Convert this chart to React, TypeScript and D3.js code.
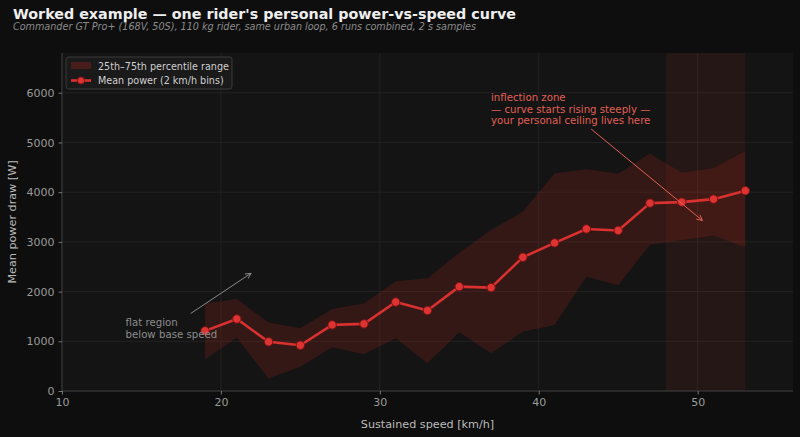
import React, { useEffect, useRef } from "react";
import * as d3 from "d3";

// Speed bins (km/h, bin centres) and the power statistics per bin
const speeds = [19, 21, 23, 25, 27, 29, 31, 33, 35, 37, 39, 41, 43, 45, 47, 49, 51, 53];
const meanPower = [1210, 1450, 990, 920, 1330, 1350, 1790, 1620, 2100, 2080, 2690, 2980, 3260, 3230, 3780, 3800, 3860, 4030];
const p25 = [640, 1070, 250, 490, 880, 740, 1060, 560, 1180, 760, 1190, 1330, 2300, 2130, 2940, 3040, 3130, 2890];
const p75 = [1760, 1850, 1380, 1260, 1650, 1760, 2210, 2270, 2780, 3240, 3610, 4380, 4460, 4370, 4780, 4390, 4480, 4830];

const xTicks = [10, 20, 30, 40, 50];
const yTicks = [0, 1000, 2000, 3000, 4000, 5000, 6000];
const inflectionZone = [48, 53];

const FONT = "DejaVu Sans, Verdana, sans-serif";

const App: React.FC = () => {
  const svgRef = useRef<SVGSVGElement | null>(null);

  useEffect(() => {
    const width = 800;
    const height = 437;
    const margin = { top: 53, right: 7, bottom: 46, left: 62 };

    const svg = d3.select(svgRef.current);
    svg.selectAll("*").remove();
    svg.attr("width", width).attr("height", height);

    const x = d3.scaleLinear().domain([10, 56]).range([margin.left, width - margin.right]);
    const y = d3.scaleLinear().domain([0, 6800]).range([height - margin.bottom, margin.top]);

    // Backgrounds
    svg.append("rect").attr("width", width).attr("height", height).attr("fill", "#0e0e0e");
    svg
      .append("rect")
      .attr("x", margin.left)
      .attr("y", margin.top)
      .attr("width", width - margin.left - margin.right)
      .attr("height", height - margin.top - margin.bottom)
      .attr("fill", "#141414");

    // Grid
    const grid = svg.append("g").attr("stroke", "#262626").attr("stroke-width", 0.8);
    xTicks.forEach((t) => {
      grid.append("line").attr("x1", x(t)).attr("x2", x(t)).attr("y1", y.range()[0]).attr("y2", y.range()[1]);
    });
    yTicks.forEach((t) => {
      grid.append("line").attr("x1", x.range()[0]).attr("x2", x.range()[1]).attr("y1", y(t)).attr("y2", y(t));
    });

    // Inflection zone shading
    svg
      .append("rect")
      .attr("x", x(inflectionZone[0]))
      .attr("y", margin.top)
      .attr("width", x(inflectionZone[1]) - x(inflectionZone[0]))
      .attr("height", height - margin.top - margin.bottom)
      .attr("fill", "#c0392b")
      .attr("opacity", 0.1);

    // Interquartile band
    const bandData = speeds.map((s, i) => ({ s, lo: p25[i], hi: p75[i] }));
    const area = d3
      .area<{ s: number; lo: number; hi: number }>()
      .x((d) => x(d.s))
      .y0((d) => y(d.lo))
      .y1((d) => y(d.hi));
    svg.append("path").attr("d", area(bandData)).attr("fill", "#b3261e").attr("opacity", 0.2);

    // Mean line with markers
    const lineData = speeds.map((s, i) => ({ s, p: meanPower[i] }));
    const line = d3
      .line<{ s: number; p: number }>()
      .x((d) => x(d.s))
      .y((d) => y(d.p));
    svg
      .append("path")
      .attr("d", line(lineData))
      .attr("fill", "none")
      .attr("stroke", "#d93030")
      .attr("stroke-width", 2.6)
      .attr("stroke-linejoin", "round");
    svg
      .selectAll(".pt")
      .data(lineData)
      .enter()
      .append("circle")
      .attr("class", "pt")
      .attr("cx", (d) => x(d.s))
      .attr("cy", (d) => y(d.p))
      .attr("r", 4.2)
      .attr("fill", "#dd3333")
      .attr("stroke", "#7a1414")
      .attr("stroke-width", 1);

    // Spines
    svg
      .append("line")
      .attr("x1", x.range()[0]).attr("x2", x.range()[0])
      .attr("y1", y.range()[0]).attr("y2", y.range()[1])
      .attr("stroke", "#3a3a3a");
    svg
      .append("line")
      .attr("x1", x.range()[0]).attr("x2", x.range()[1])
      .attr("y1", y.range()[0]).attr("y2", y.range()[0])
      .attr("stroke", "#3a3a3a");

    // Axes
    const xAxis = svg
      .append("g")
      .attr("transform", `translate(0, ${y.range()[0]})`)
      .call(d3.axisBottom(x).tickValues(xTicks).tickSize(3.5).tickPadding(4).tickFormat(d3.format("d")));
    const yAxis = svg
      .append("g")
      .attr("transform", `translate(${x.range()[0]}, 0)`)
      .call(d3.axisLeft(y).tickValues(yTicks).tickSize(3.5).tickPadding(4).tickFormat(d3.format("d")));
    [xAxis, yAxis].forEach((ax) => {
      ax.select(".domain").remove();
      ax.selectAll("line").attr("stroke", "#777");
      ax.selectAll("text").attr("fill", "#9a9a9a").attr("font-family", FONT).attr("font-size", 11);
    });

    // Axis labels
    svg
      .append("text")
      .attr("x", (x.range()[0] + x.range()[1]) / 2)
      .attr("y", 428)
      .attr("text-anchor", "middle")
      .attr("fill", "#bbbbbb")
      .attr("font-family", FONT)
      .attr("font-size", 11.2)
      .text("Sustained speed [km/h]");
    svg
      .append("text")
      .attr("transform", `translate(16, ${(y.range()[0] + y.range()[1]) / 2}) rotate(-90)`)
      .attr("text-anchor", "middle")
      .attr("fill", "#bbbbbb")
      .attr("font-family", FONT)
      .attr("font-size", 11.2)
      .text("Mean power draw [W]");

    // Arrow heads
    const defs = svg.append("defs");
    const addMarker = (id: string, color: string) => {
      defs
        .append("marker")
        .attr("id", id)
        .attr("viewBox", "0 0 10 10")
        .attr("refX", 9)
        .attr("refY", 5)
        .attr("markerWidth", 7)
        .attr("markerHeight", 7)
        .attr("orient", "auto")
        .append("path")
        .attr("d", "M1,1 L9,5 L1,9")
        .attr("fill", "none")
        .attr("stroke", color)
        .attr("stroke-width", 1.3);
    };
    addMarker("arrowGray", "#8a8a8a");
    addMarker("arrowRed", "#e06055");

    // Annotation: flat region
    svg
      .append("line")
      .attr("x1", x(18.1)).attr("y1", y(1560))
      .attr("x2", x(21.9)).attr("y2", y(2370))
      .attr("stroke", "#8a8a8a")
      .attr("stroke-width", 1)
      .attr("marker-end", "url(#arrowGray)");
    const flat = svg
      .append("text")
      .attr("fill", "#8c8c8c")
      .attr("font-family", FONT)
      .attr("font-size", 10.2);
    flat.append("tspan").attr("x", x(14)).attr("y", 326).text("flat region");
    flat.append("tspan").attr("x", x(14)).attr("y", 338).text("below base speed");

    // Annotation: inflection zone
    svg
      .append("line")
      .attr("x1", x(43.3)).attr("y1", y(5270))
      .attr("x2", x(50.3)).attr("y2", y(3430))
      .attr("stroke", "#e06055")
      .attr("stroke-width", 1)
      .attr("marker-end", "url(#arrowRed)");
    const infl = svg
      .append("text")
      .attr("fill", "#e06055")
      .attr("font-family", FONT)
      .attr("font-size", 10.2);
    ["inflection zone", "— curve starts rising steeply —", "your personal ceiling lives here"].forEach((t, i) => {
      infl.append("tspan").attr("x", 491).attr("y", 101 + i * 11.6).text(t);
    });

    // Legend
    const lg = svg.append("g").attr("transform", "translate(66, 57)");
    lg.append("rect")
      .attr("width", 166)
      .attr("height", 32)
      .attr("rx", 2.5)
      .attr("fill", "#1a1a1a")
      .attr("stroke", "#444")
      .attr("stroke-width", 0.8);
    lg.append("rect").attr("x", 5).attr("y", 5).attr("width", 20).attr("height", 7).attr("fill", "#b3261e").attr("opacity", 0.3);
    lg.append("line").attr("x1", 5).attr("x2", 25).attr("y1", 23.5).attr("y2", 23.5).attr("stroke", "#d93030").attr("stroke-width", 2.6);
    lg.append("circle").attr("cx", 15).attr("cy", 23.5).attr("r", 3.6).attr("fill", "#dd3333").attr("stroke", "#7a1414");
    lg.append("text")
      .attr("x", 32).attr("y", 12.5)
      .attr("fill", "#d0d0d0").attr("font-family", FONT).attr("font-size", 9.6)
      .text("25th–75th percentile range");
    lg.append("text")
      .attr("x", 32).attr("y", 27)
      .attr("fill", "#d0d0d0").attr("font-family", FONT).attr("font-size", 9.6)
      .text("Mean power (2 km/h bins)");

    // Title & subtitle
    svg
      .append("text")
      .attr("x", 13).attr("y", 19)
      .attr("fill", "#eeeeee").attr("font-family", FONT).attr("font-size", 14.3).attr("font-weight", "bold")
      .text("Worked example — one rider's personal power-vs-speed curve");
    svg
      .append("text")
      .attr("x", 13).attr("y", 29.5)
      .attr("fill", "#8a8a8a").attr("font-family", FONT).attr("font-size", 9.65).attr("font-style", "italic")
      .text("Commander GT Pro+ (168V, 50S), 110 kg rider, same urban loop, 6 runs combined, 2 s samples");
  }, []);

  return (
    <div style={{ position: "fixed", top: 0, left: 0 }}>
      <svg ref={svgRef} style={{ display: "block" }}></svg>
    </div>
  );
};

export default App;
